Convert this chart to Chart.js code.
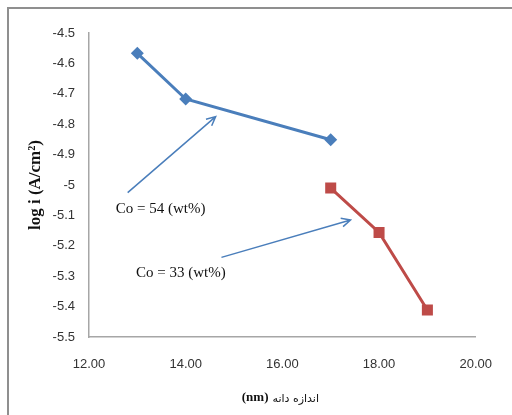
<!DOCTYPE html>
<html>
<head>
<meta charset="utf-8">
<script src="https://cdn.jsdelivr.net/npm/chart.js@4.4.1/dist/chart.umd.min.js"></script>
<style>
html,body{margin:0;padding:0;background:#fff;}
canvas{display:block;}
</style>
</head>
<body>
<canvas id="c" width="512" height="415"></canvas>
<script>
// ---- data ----
const grainSize54 = [13, 14, 17];
const logI54 = [-4.567, -4.717, -4.851];
const grainSize33 = [17, 18, 19];
const logI33 = [-5.010, -5.156, -5.411];
const xTickValues = [12, 14, 16, 18, 20];
const yTickValues = [-4.5, -4.6, -4.7, -4.8, -4.9, -5.0, -5.1, -5.2, -5.3, -5.4, -5.5];
const xAxisUnit = "(nm)";
const xAxisWords = "اندازه دانه";
const yAxisTitle = "log i (A/cm²)";
// annotations (data coordinates)
const noteTexts = ["Co = 54 (wt%)", "Co = 33 (wt%)"];
const noteX = [13.48, 13.90];
const noteY = [-5.079, -5.289];
const arrowFromX = [12.80, 14.74];
const arrowFromY = [-5.025, -5.238];
const arrowToX = [14.62, 17.41];
const arrowToY = [-4.775, -5.115];

const blue = '#4A7EBB';
const red = '#BE4B48';

const pts = (xs, ys) => xs.map((x, i) => ({x: x, y: ys[i]}));

const annotationPlugin = {
  id: 'notes',
  beforeDraw(chart) {
    const ctx = chart.ctx;
    ctx.save();
    ctx.fillStyle = '#fff';
    ctx.fillRect(0, 0, chart.width, chart.height);
    ctx.strokeStyle = '#8f8f8f';
    ctx.lineWidth = 2;
    ctx.beginPath();
    ctx.moveTo(8, chart.height);
    ctx.lineTo(8, 8);
    ctx.lineTo(chart.width, 8);
    ctx.stroke();
    ctx.restore();
  },
  afterDatasetsDraw(chart) {
    const ctx = chart.ctx;
    const xs = chart.scales.x, ys = chart.scales.y;
    ctx.save();
    ctx.strokeStyle = blue;
    ctx.lineWidth = 1.5;
    for (let i = 0; i < arrowFromX.length; i++) {
      const x1 = xs.getPixelForValue(arrowFromX[i]);
      const y1 = ys.getPixelForValue(arrowFromY[i]);
      const x2 = xs.getPixelForValue(arrowToX[i]);
      const y2 = ys.getPixelForValue(arrowToY[i]);
      const a = Math.atan2(y2 - y1, x2 - x1);
      const h = 10;
      ctx.beginPath();
      ctx.moveTo(x1, y1);
      ctx.lineTo(x2, y2);
      ctx.moveTo(x2 - h * Math.cos(a - 0.45), y2 - h * Math.sin(a - 0.45));
      ctx.lineTo(x2, y2);
      ctx.lineTo(x2 - h * Math.cos(a + 0.45), y2 - h * Math.sin(a + 0.45));
      ctx.stroke();
    }
    ctx.fillStyle = '#111';
    ctx.font = '15px "Liberation Serif"';
    ctx.textAlign = 'center';
    ctx.textBaseline = 'middle';
    for (let i = 0; i < noteTexts.length; i++) {
      ctx.fillText(noteTexts[i], xs.getPixelForValue(noteX[i]), ys.getPixelForValue(noteY[i]));
    }
    // x-axis title: bold unit + Persian words
    const fUnit = 'bold 13px "Liberation Serif"';
    const fWords = '11px "DejaVu Sans"';
    ctx.font = fUnit;
    const w1 = ctx.measureText(xAxisUnit).width;
    ctx.font = fWords;
    const w2 = ctx.measureText(xAxisWords).width;
    const gap = 4;
    const cx = (chart.chartArea.left + chart.chartArea.right) / 2 - 2;
    const ty = chart.height - 17;
    let x0 = cx - (w1 + gap + w2) / 2;
    ctx.textAlign = 'left';
    ctx.textBaseline = 'middle';
    ctx.font = fUnit;
    ctx.fillText(xAxisUnit, x0, ty);
    ctx.font = fWords;
    ctx.fillText(xAxisWords, x0 + w1 + gap, ty + 1);
    ctx.restore();
  }
};

new Chart(document.getElementById('c'), {
  type: 'line',
  data: {
    datasets: [
      {
        data: pts(grainSize54, logI54),
        borderColor: blue,
        backgroundColor: blue,
        borderWidth: 3,
        pointStyle: 'rectRot',
        pointRadius: 6.5,
        pointBorderWidth: 0,
        tension: 0
      },
      {
        data: pts(grainSize33, logI33),
        borderColor: red,
        backgroundColor: red,
        borderWidth: 3,
        pointStyle: 'rect',
        pointRadius: 7.8,
        pointBorderWidth: 0,
        tension: 0
      }
    ]
  },
  options: {
    responsive: false,
    animation: false,
    layout: {padding: {top: 33, right: 33, bottom: 0, left: 0}},
    plugins: {legend: {display: false}, tooltip: {enabled: false}},
    scales: {
      x: {
        type: 'linear',
        min: 12, max: 20,
        afterFit(s) { s.height = 78; },
        afterBuildTicks(s) { s.ticks = xTickValues.map(v => ({value: v})); },
        grid: {display: false, drawTicks: false},
        border: {display: true, color: '#A6A6A6', width: 1.5},
        ticks: {
          padding: 20,
          color: '#333',
          font: {family: '"Liberation Sans"', size: 13},
          maxRotation: 0,
          callback: v => Number(v).toFixed(2)
        },
        title: {display: false}
      },
      y: {
        type: 'linear',
        min: -5.5, max: -4.5,
        afterFit(s) { s.width = 89; },
        afterBuildTicks(s) { s.ticks = yTickValues.map(v => ({value: v})); },
        grid: {display: false, drawTicks: false},
        border: {display: true, color: '#A6A6A6', width: 1.5},
        ticks: {
          padding: 14,
          color: '#333',
          font: {family: '"Liberation Sans"', size: 13},
          callback: v => String(Math.round(v * 10) / 10)
        },
        title: {
          display: true,
          text: yAxisTitle,
          color: '#111',
          font: {family: '"Liberation Serif"', size: 17, weight: 'bold'},
          padding: {top: 25, bottom: 0}
        }
      }
    }
  },
  plugins: [annotationPlugin]
});
</script>
</body>
</html>
